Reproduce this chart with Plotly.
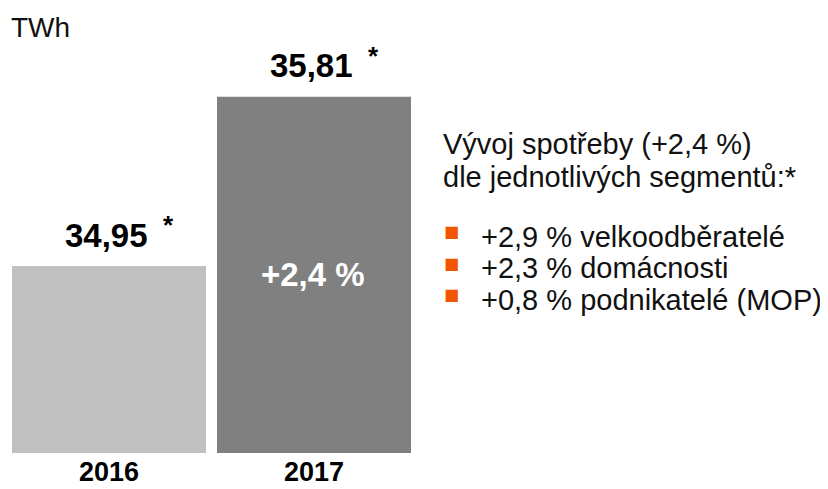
import plotly.graph_objects as go

# ---- data ----
years = ["2016", "2017"]
consumption = [34.95, 35.81]
value_labels = ["34,95", "35,81"]
bar_colors = ["#C0C0C0", "#808080"]
growth_label = "+2,4 %"
unit_label = "TWh"
heading_lines = ["Vývoj spotřeby (+2,4 %)", "dle jednotlivých segmentů:*"]
segment_lines = ["+2,9 % velkoodběratelé", "+2,3 % domácnosti", "+0,8 % podnikatelé (MOP)"]
axis_base = 34.0
axis_top = 36.2

# ---- layout geometry (page body has an 8px margin) ----
OFF = 8
W, H = 828 - OFF, 489 - OFF
L, R, T, B = 0, 410, 12, 36
PW, PH = W - L - R, H - T - B
FONT = "Liberation Sans, Arial, sans-serif"


def px(x, y):
    """reference-picture pixel -> paper fraction"""
    return (x - OFF - L) / PW, 1 - (y - OFF - T) / PH


fig = go.Figure()
fig.add_trace(go.Bar(
    x=years, y=consumption, marker=dict(color=bar_colors, line=dict(width=0)),
    hoverinfo="skip", showlegend=False,
))

ann = []
# value labels above bars
for i, (v, lab) in enumerate(zip(consumption, value_labels)):
    ann.append(dict(x=i, y=v, xref="x", yref="y", text=lab, showarrow=False,
                    xanchor="center", yanchor="middle", xshift=-3, yshift=31,
                    font=dict(family=FONT, size=33, color="#000000", weight="bold")))
    ann.append(dict(x=i, y=v, xref="x", yref="y", text="*", showarrow=False,
                    xanchor="center", yanchor="middle", xshift=59, yshift=41,
                    font=dict(family=FONT, size=26, color="#000000", weight="bold")))

# growth label inside the 2017 bar (vertically centred in the bar)
ann.append(dict(x=1, y=(axis_base + consumption[1]) / 2, xref="x", yref="y",
                text=growth_label, showarrow=False, xanchor="center", yanchor="middle",
                xshift=-1,
                font=dict(family=FONT, size=33, color="#FFFFFF", weight="bold")))

# unit label
ux, uy = px(9, 28)
ann.append(dict(x=ux, y=uy, xref="paper", yref="paper", text=unit_label, showarrow=False,
                xanchor="left", yanchor="middle",
                font=dict(family=FONT, size=28, color="#111111")))

# heading
for i, line in enumerate(heading_lines):
    hx, hy = px(441, 144 + i * 33)
    ann.append(dict(x=hx, y=hy, xref="paper", yref="paper", text=line, showarrow=False,
                    xanchor="left", yanchor="middle",
                    font=dict(family=FONT, size=29, color="#111111")))

# bullet list
for i, line in enumerate(segment_lines):
    yc = 236.5 + i * 31.5
    bx, by = px(451, yc - 5)
    ann.append(dict(x=bx, y=by, xref="paper", yref="paper", text="■", showarrow=False,
                    xanchor="center", yanchor="middle",
                    font=dict(family="DejaVu Sans", size=16, color="#F25500")))
    tx, ty = px(479, yc)
    ann.append(dict(x=tx, y=ty, xref="paper", yref="paper", text=line, showarrow=False,
                    xanchor="left", yanchor="middle",
                    font=dict(family=FONT, size=29, color="#111111")))

fig.update_layout(
    width=W, height=H,
    margin=dict(l=L, r=R, t=T, b=B, pad=0),
    paper_bgcolor="#FFFFFF", plot_bgcolor="#FFFFFF",
    bargap=11 / 205,
    xaxis=dict(type="category", range=[-0.4927, 1.5073], showgrid=False, zeroline=False,
               showline=False, ticks="", automargin=False, ticklabelstandoff=0,
               tickfont=dict(family=FONT, size=27, color="#000000", weight="bold")),
    yaxis=dict(range=[axis_base, axis_top], visible=False, showgrid=False,
               zeroline=False, automargin=False),
    annotations=ann,
    showlegend=False,
)

fig.write_html("out.html", config={"displayModeBar": False})
